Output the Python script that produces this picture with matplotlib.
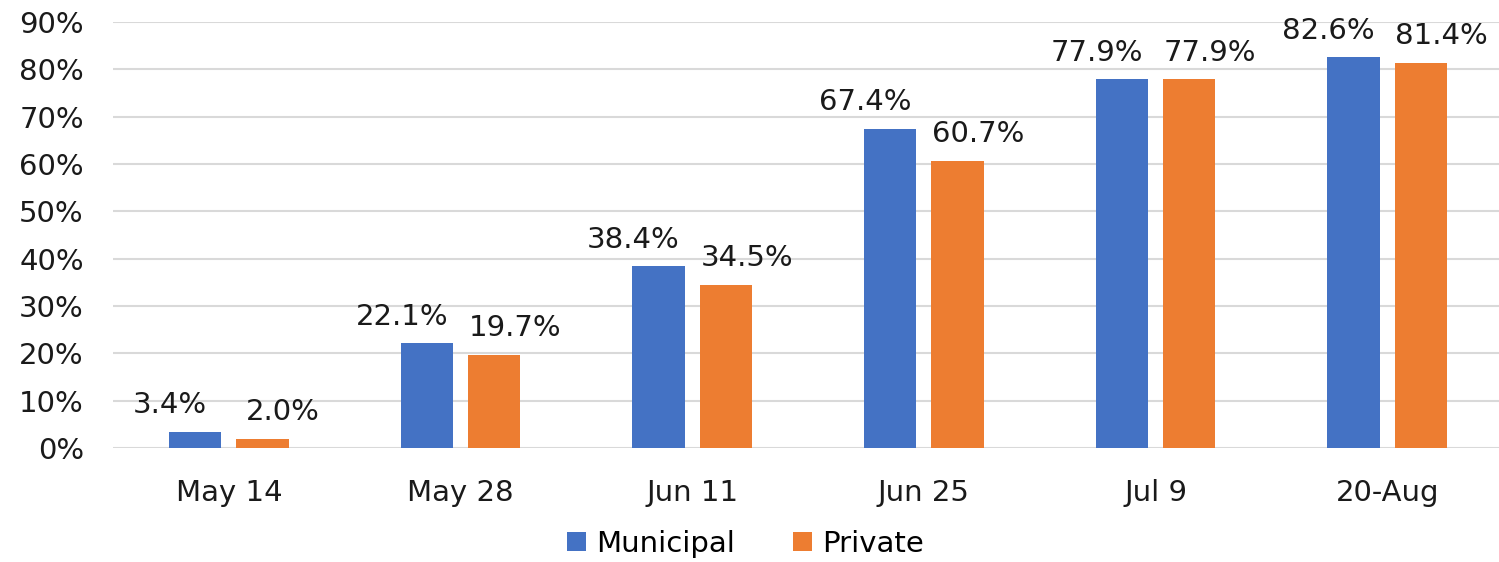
import matplotlib
matplotlib.use("Agg")
import matplotlib.pyplot as plt
import numpy as np
from matplotlib.ticker import PercentFormatter

dates = ["May 14", "May 28", "Jun 11", "Jun 25", "Jul 9", "20-Aug"]
municipal = [3.4, 22.1, 38.4, 67.4, 77.9, 82.6]
private = [2.0, 19.7, 34.5, 60.7, 77.9, 81.4]

plt.rcParams['font.family'] = ['DejaVu Sans']
fs = 21

fig = plt.figure(figsize=(14.99, 5.62), dpi=100)
ax = fig.add_axes([0.0754, 0.2028, 0.9273, 0.7581])

x = np.arange(len(dates))
w = 0.226
off = 0.145
b1 = ax.bar(x - off, municipal, w, color='#4472C4', label='Municipal', zorder=3)
b2 = ax.bar(x + off, private, w, color='#ED7D31', label='Private', zorder=3)

# labels pushed apart a little, as the original does
for bars, vals, dx in ((b1, municipal, -18), (b2, private, 15)):
    for r, v in zip(bars, vals):
        ax.annotate(f"{v:.1f}%", (r.get_x() + r.get_width() / 2, v),
                    xytext=(dx, 9), textcoords='offset points',
                    ha='center', va='bottom', fontsize=fs, color='#1a1a1a')

ax.set_xlim(-0.5, len(dates) - 0.5)
ax.set_ylim(0, 90)
ax.set_yticks(np.arange(0, 91, 10))
ax.yaxis.set_major_formatter(PercentFormatter(decimals=0))
ax.set_xticks(x)
ax.set_xticklabels(dates)
ax.tick_params(axis='both', length=0, labelsize=fs, colors='#1a1a1a')
ax.tick_params(axis='y', pad=21)
ax.tick_params(axis='x', pad=22)
ax.grid(axis='y', color='#d9d9d9', linewidth=1.5, zorder=0)
for s in ax.spines.values():
    s.set_visible(False)

ax.legend(loc='upper center', bbox_to_anchor=(0.455, -0.165), ncol=2, frameon=False,
          fontsize=fs, handlelength=0.65, handleheight=0.65, columnspacing=2.0,
          handletextpad=0.35, borderaxespad=0)

fig.savefig("out.png", dpi=100)
